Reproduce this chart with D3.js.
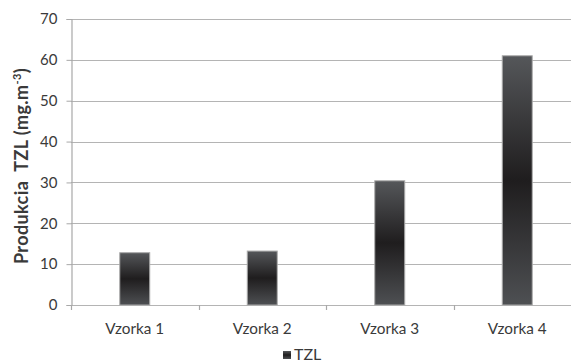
<!DOCTYPE html>
<html>
<head>
<meta charset="utf-8">
<script src="https://cdn.jsdelivr.net/npm/d3@7"></script>
<style>
  html, body { margin: 0; padding: 0; background: #fff; overflow: hidden; }
  svg { display: block; }
  text { font-family: Lato, "Liberation Sans", sans-serif; fill: #3a3a3a; }
</style>
</head>
<body>
<svg id="chart" width="571" height="363"></svg>
<script>
// Sample categories and TZL production values (mg.m-3)
const categories = ["Vzorka 1", "Vzorka 2", "Vzorka 3", "Vzorka 4"];
const tzlValues = [12.8, 13.2, 30.4, 61.0];
const yTicks = [0, 10, 20, 30, 40, 50, 60, 70];
const seriesName = "TZL";

const svg = d3.select("#chart");
const plotLeft = 71, plotRight = 581, plotTop = 19, plotBottom = 305;

const x = d3.scaleBand()
  .domain(categories)
  .range([plotLeft, plotRight])
  .paddingInner(0.765)
  .paddingOuter(0.3825);

const y = d3.scaleLinear().domain([0, 70]).range([plotBottom, plotTop]);

// Vertical gradient: lighter at the ends, dark in the middle
const defs = svg.append("defs");
const grad = defs.append("linearGradient")
  .attr("id", "barGrad").attr("x1", 0).attr("y1", 0).attr("x2", 0).attr("y2", 1);
grad.append("stop").attr("offset", "0%").attr("stop-color", "#55575a");
grad.append("stop").attr("offset", "50%").attr("stop-color", "#1f1d1e");
grad.append("stop").attr("offset", "100%").attr("stop-color", "#4e5053");

// Horizontal gridlines
svg.append("g")
  .selectAll("line")
  .data(yTicks)
  .join("line")
  .attr("x1", plotLeft).attr("x2", 571)
  .attr("y1", d => Math.round(y(d)) + 0.5)
  .attr("y2", d => Math.round(y(d)) + 0.5)
  .attr("stroke", "#b4b4b4").attr("stroke-width", 1.2);

// Y axis
const yAxis = svg.append("g")
  .attr("transform", `translate(${plotLeft + 0.5},0)`)
  .call(d3.axisLeft(y).tickValues(yTicks).tickSize(5).tickPadding(9));
yAxis.select(".domain").attr("stroke", "#a8a8a8").attr("stroke-width", 1.2);
yAxis.selectAll(".tick line").attr("stroke", "#a8a8a8");
yAxis.selectAll(".tick text")
  .style("font-size", "15px").style("font-family", "Lato, 'Liberation Sans', sans-serif")
  .attr("fill", "#3a3a3a");

// X axis with ticks on category boundaries
const step = x.step();
const boundaries = d3.range(categories.length + 1).map(i => plotLeft + i * step);
svg.append("g")
  .selectAll("line")
  .data(boundaries)
  .join("line")
  .attr("x1", d => Math.round(d) + 0.5).attr("x2", d => Math.round(d) + 0.5)
  .attr("y1", plotBottom).attr("y2", plotBottom + 5)
  .attr("stroke", "#a8a8a8").attr("stroke-width", 1.2);

svg.append("g")
  .selectAll("text")
  .data(categories)
  .join("text")
  .attr("x", d => x(d) + x.bandwidth() / 2)
  .attr("y", 334)
  .attr("text-anchor", "middle")
  .style("font-size", "15.3px")
  .text(d => d);

// Bars
svg.append("g")
  .selectAll("rect")
  .data(categories.map((c, i) => ({ c, v: tzlValues[i] })))
  .join("rect")
  .attr("x", d => x(d.c))
  .attr("y", d => y(d.v))
  .attr("width", x.bandwidth())
  .attr("height", d => y(0) - y(d.v))
  .attr("fill", "url(#barGrad)")
  .attr("stroke", "#a9a9a9")
  .attr("stroke-width", 1);

// Y axis title
svg.append("text")
  .attr("transform", "translate(28,166) rotate(-90)")
  .attr("text-anchor", "middle")
  .style("font-size", "18px")
  .style("font-weight", "bold")
  .style("letter-spacing", "0.4px")
  .style("white-space", "pre")
  .attr("fill", "#2a2a2a")
  .call(t => {
    t.append("tspan").text("Produkcia  TZL (mg.m");
    t.append("tspan").attr("dy", -7).style("font-size", "11px").text("-3");
    t.append("tspan").attr("dy", 7).text(")");
  });

// Legend
const legend = svg.append("g").attr("transform", "translate(283,360)");
legend.append("rect")
  .attr("x", 0).attr("y", -9).attr("width", 8).attr("height", 8)
  .attr("fill", "url(#barGrad)");
legend.append("text")
  .attr("x", 11).attr("y", 0)
  .style("font-size", "16px")
  .text(seriesName);
</script>
</body>
</html>
